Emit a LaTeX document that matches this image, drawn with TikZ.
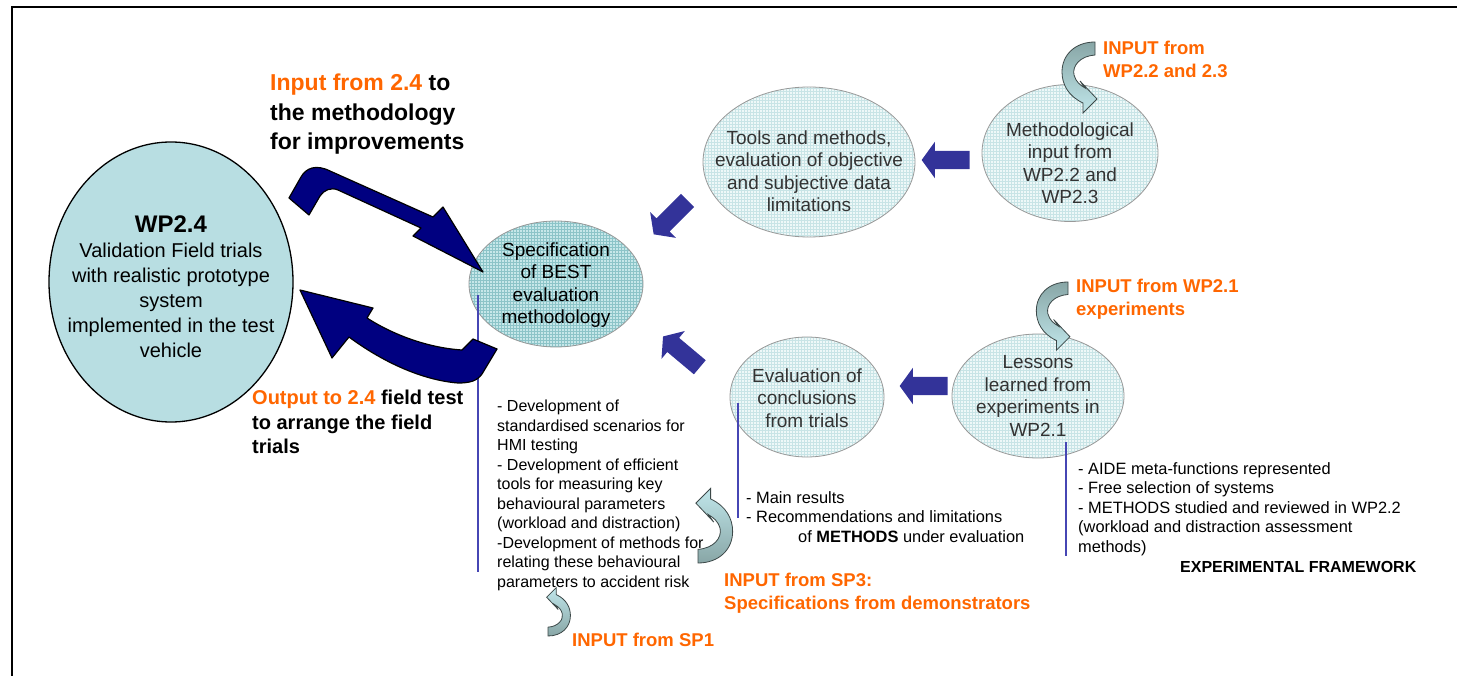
\documentclass[tikz,border=0pt]{standalone}
\usepackage{fontspec}
\setmainfont{Liberation Sans}
\usepackage{tikz}
\usetikzlibrary{shapes.geometric,shapes.arrows,patterns,positioning,calc}

\definecolor{orangetxt}{RGB}{255,102,0}
\definecolor{navyarrow}{RGB}{0,0,128}
\definecolor{blockblue}{RGB}{51,51,153}
\definecolor{stemblue}{RGB}{70,70,180}
\definecolor{wpfill}{RGB}{184,222,226}
\definecolor{specfill}{RGB}{198,231,233}
\definecolor{specgrid}{RGB}{140,196,200}
\definecolor{bubblefill}{RGB}{238,248,248}
\definecolor{bubblegrid}{RGB}{200,228,230}
\definecolor{greytext}{RGB}{51,51,51}
\definecolor{curvedark}{RGB}{136,166,166}
\definecolor{curvelight}{RGB}{192,230,234}
\definecolor{curveedge}{RGB}{60,72,72}

\tikzset{
  bubble/.style={ellipse, draw=gray!80, line width=0.8pt, inner sep=0pt,
    preaction={fill=bubblefill}, pattern=grid, pattern color=bubblegrid},
  specbubble/.style={bubble, preaction={fill=specfill}, pattern color=specgrid},
  wpbubble/.style={ellipse, draw=black, line width=1.3pt, fill=wpfill, inner sep=0pt},
  bubbletext/.style={font=\fontsize{19}{22.5}\selectfont, text=greytext,
    align=center, inner sep=0pt},
  bullets/.style={font=\fontsize{16}{19.5}\selectfont, align=left,
    anchor=north west, inner sep=0pt},
  widebullets/.style={bullets, font=\fontsize{16.4}{19.5}\selectfont},
  inputlbl/.style={font=\fontsize{18.5}{22.5}\selectfont\bfseries, text=orangetxt,
    align=left, anchor=north west, inner sep=0pt},
  bigbold/.style={font=\fontsize{23}{29.5}\selectfont\bfseries, align=left,
    anchor=north west, inner sep=0pt},
  blockarr/.style={single arrow, fill=blockblue, inner xsep=0pt, inner ysep=9pt,
    minimum height=48pt, single arrow head extend=9pt, single arrow tip angle=108},
  bigarrow/.style={fill=navyarrow, draw=black, line width=1.2pt, line join=round},
  stem/.style={draw=stemblue, line width=1.6pt}
}

\begin{document}
\begin{tikzpicture}[x=1pt, y=-1pt]
\useasboundingbox (0,0) rectangle (1457,676);
\draw[line width=2.2pt] (12,676) -- (12,7) -- (1457,7);

\def\inarrow#1#2#3#4#5#6{
  \begin{scope}[shift={(#1,#2)}, scale=#3, rotate=#4]
    \shadedraw[top color=#5, bottom color=#6, draw=curveedge, line width=0.8pt]
      (0,0) -- (0,13) .. controls (-15,14) and (-23,24) .. (-21,33)
      .. controls (-19,40) and (-15,43) .. (-10,46) -- (-15,39) -- (2,57)
      -- (-12,71) -- (-12,61) .. controls (-27,54) and (-33,42) .. (-33,30)
      .. controls (-33,13) and (-20,0) .. cycle;
  \end{scope}
}

% bubbles
\node[wpbubble, minimum width=244pt, minimum height=280pt] (wp24) at (171,282) {};
\node[specbubble, minimum width=174pt, minimum height=126pt] (spec) at (556,284) {};
\node[bubble, minimum width=212pt, minimum height=150pt] (tools) at (809,162) {};
\node[bubble, minimum width=176pt, minimum height=137pt] (meth) at (1070,153) {};
\node[bubble, minimum width=154pt, minimum height=120pt] (evalc) at (807,397) {};
\node[bubble, minimum width=172pt, minimum height=124pt] (lessons) at (1038,396) {};

\node[font=\fontsize{20}{25}\selectfont, align=center, inner sep=0pt] (wp24txt) at (171,287)
  {\textbf{\fontsize{24}{25}\selectfont WP2.4}\\Validation Field trials\\with realistic prototype\\system\\implemented in the test\\vehicle};
\node[bubbletext, text=black] (spectxt) at (556,285) {Specification\\of BEST\\evaluation\\methodology};
\node[bubbletext] (toolstxt) at (809,171) {Tools and methods,\\evaluation of objective\\and subjective data\\limitations};
\node[bubbletext] (methtxt) at (1070,163) {Methodological\\input from\\WP2.2 and\\WP2.3};
\node[bubbletext] (evalctxt) at (807,398) {Evaluation of\\conclusions\\from trials};
\node[bubbletext] (lessonstxt) at (1038,396) {Lessons\\learned from\\experiments in\\WP2.1};

% stems
\coordinate (specstem) at (478,295);
\coordinate (evalstem) at (738,403);
\coordinate (lessonstem) at (1066,442);
\draw[stem] (specstem) -- ++(0,277);
\draw[stem] (evalstem) -- ++(0,115);
\draw[stem] (lessonstem) -- ++(0,114);

% block arrows
\node[blockarr, rotate=180] (methtotools) at (949,160) {};
\node[blockarr, rotate=180] (lessontoeval) at (927,386) {};
\node[blockarr, rotate=225] (toolstospec) at (673,215) {};
\node[blockarr, rotate=140] (evaltospec) at (684,354) {};

% big arrows to and from WP2.4
\path[bigarrow] (289,198) -- (301,177) .. controls (306,168) and (316,164) .. (330,171)
  -- (433,217) -- (443,207) -- (483,272) -- (413,236) -- (421,228)
  -- (338,190) .. controls (331,187) and (324,190) .. (320,196) -- (309,215) -- cycle;
\path[bigarrow] (300,290) -- (373,308) -- (367,318) .. controls (395,336) and (430,348) .. (462,350)
  -- (473,339) -- (497,349) -- (482,374) .. controls (477,381) and (470,383) .. (458,383)
  .. controls (420,380) and (380,360) .. (349,337) -- (332,358) -- cycle;

% input arrows
\inarrow{1095}{42}{1}{0}{curvedark}{curvelight}
\inarrow{1068}{282}{0.96}{0}{curvedark}{curvelight}
\inarrow{698}{563}{1.05}{180}{curvelight}{curvedark}
\inarrow{548}{636}{0.68}{180}{curvelight}{curvedark}

% labels
\node[bigbold] (inlbl) at (270,74) {{\color{orangetxt}Input from 2.4} to\\the methodology\\for improvements};
\node[bigbold, font=\fontsize{20}{24.5}\selectfont\bfseries] (outlbl) at (252,390)
  {{\color{orangetxt}Output to 2.4} field test\\to arrange the field\\trials};

\node[bullets] (specnotes) at (497,400) {- Development of\\standardised scenarios for\\HMI testing\\- Development of efficient\\tools for measuring key\\behavioural parameters\\(workload and distraction)\\-Development of methods for\\relating these behavioural\\parameters to accident risk};
\node[widebullets] (evalnotes) at (746,491) {- Main results\\- Recommendations and limitations\\\hspace*{52pt}of \textbf{METHODS} under evaluation};
\node[widebullets] (lessonnotes) at (1078,462) {- AIDE meta-functions represented\\- Free selection of systems\\- METHODS studied and reviewed in WP2.2\\(workload and distraction assessment\\methods)};
\node[bullets, font=\fontsize{16}{19.5}\selectfont\bfseries] (framework) at (1180,561) {EXPERIMENTAL FRAMEWORK};

\node[inputlbl] (inwp23) at (1103,41) {INPUT from\\WP2.2 and 2.3};
\node[inputlbl] (inwp21) at (1076,279) {INPUT from WP2.1\\experiments};
\node[inputlbl] (insp3) at (724,573) {INPUT from SP3:\\Specifications from demonstrators};
\node[inputlbl] (insp1) at (572,633) {INPUT from SP1};
\end{tikzpicture}
\end{document}
